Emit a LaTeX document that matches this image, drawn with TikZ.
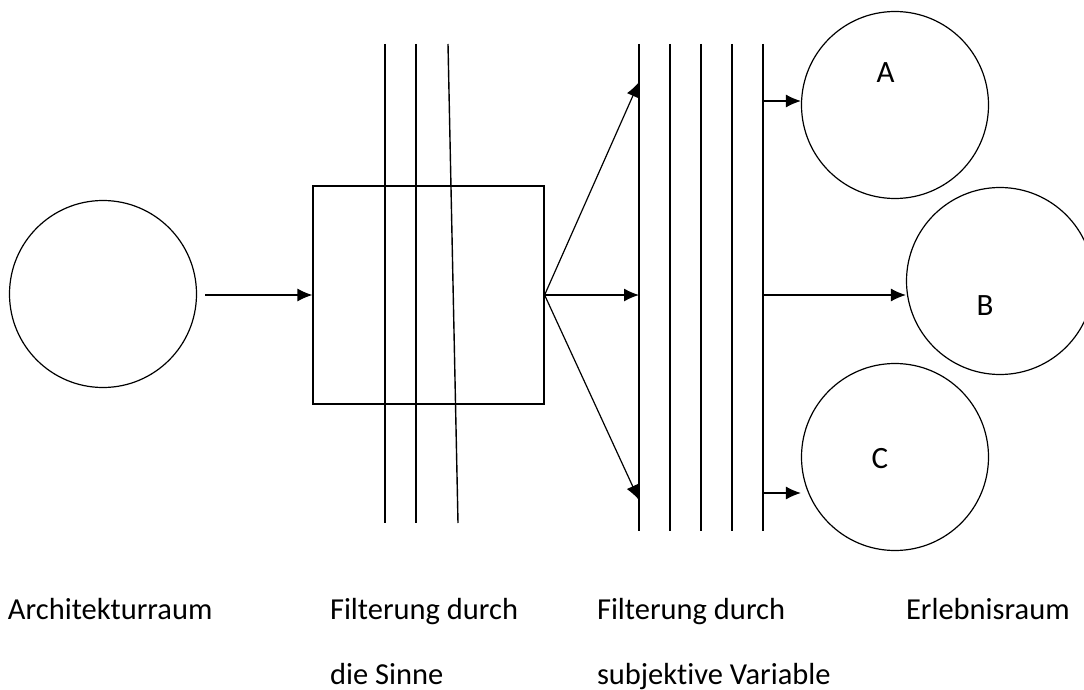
\documentclass[tikz,border=0pt]{standalone}
\usepackage{fontspec}
\setmainfont{Carlito}[Ligatures=NoCommon]
\usetikzlibrary{arrows.meta}

\begin{document}
\begin{tikzpicture}[x=1pt,y=-1pt,
  raum/.style={circle,draw,line width=1.2pt,minimum size=187pt,inner sep=0pt},
  pfeil/.style={-{Latex[length=15pt,width=13pt]},line width=1.2pt},
  linie/.style={line width=1.4pt},
  beschriftung/.style={inner sep=0pt,outer sep=0pt,anchor=base west,font=\fontsize{30.5}{36}\selectfont},
  buchstabe/.style={inner sep=0pt,font=\fontsize{31}{37}\selectfont}]
\path[use as bounding box] (0,0) rectangle (1084,690);
\path[fill=white,draw=none] (0,0) rectangle (1084,690);
% Architekturraum
\node[raum] (architektur) at (103,294) {};
\node[draw,line width=1.2pt,minimum width=231pt,minimum height=218pt,inner sep=0pt] (sinne) at (428.5,295) {};
% Filter der Sinne
\foreach \x in {385,416} \draw[linie] (\x,44) -- (\x,523);
\draw[linie] (448,44) -- (458,523);
% Filter der subjektiven Variablen
\foreach \x in {639,670,701,732,763} \draw[linie] (\x,44) -- (\x,531);
% Erlebnisraum
\node[raum] (a) at (895,105) {};
\node[raum] (b) at (1000,281) {};
\node[raum] (c) at (895,457) {};
\node[buchstabe] (a-text) at (885.5,72.5) {A};
\node[buchstabe] (b-text) at (985,306) {B};
\node[buchstabe] (c-text) at (880,459) {C};
% Pfeile
\coordinate (start) at (205,295);
\coordinate (f-oben) at (639,82);
\coordinate (f-mitte) at (639,295);
\coordinate (f-unten) at (639,500);
\coordinate (r-a) at (763,101);
\coordinate (r-b) at (763,295);
\coordinate (r-c) at (763,493);
\draw[pfeil] (start) -- (sinne.west);
\draw[pfeil] (sinne.east) -- (f-oben);
\draw[pfeil] (sinne.east) -- (f-mitte);
\draw[pfeil] (sinne.east) -- (f-unten);
\draw[pfeil] (r-a) -- (r-a -| a.west);
\draw[pfeil] (r-b) -- (r-b -| b.west);
\draw[pfeil] (r-c) -- (r-c -| c.west);
% Beschriftung
\node[beschriftung] (t-architektur) at (8,619) {Architekturraum};
\node[beschriftung] (t-sinne1) at (330,619) {Filterung durch};
\node[beschriftung] (t-sinne2) at (330,684) {die Sinne};
\node[beschriftung] (t-variable1) at (597,619) {Filterung durch};
\node[beschriftung] (t-variable2) at (597,684) {subjektive Variable};
\node[beschriftung] (t-erlebnis) at (906,619) {Erlebnisraum};
\end{tikzpicture}
\end{document}
